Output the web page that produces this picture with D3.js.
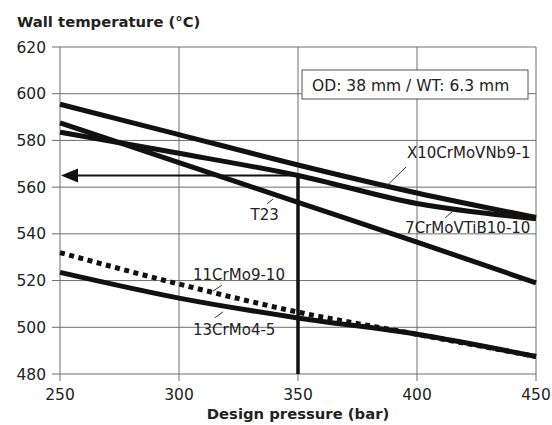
<!DOCTYPE html>
<html>
<head>
<meta charset="utf-8">
<script src="https://cdn.jsdelivr.net/npm/d3@7"></script>
<style>
  body { margin: 0; background: #fff; }
  svg { display: block; font-family: "DejaVu Sans", sans-serif; }
</style>
</head>
<body>
<div id="chart"></div>
<script>
    const pressures = [250, 300, 350, 400, 450];
    const x10CrMoVNb = [595.5, 582.5, 569.5, 557.5, 547];
    const t23 = [587.5, 570.5, 553.5, 536.5, 519];
    const crMoVTiB = [583.5, 574.5, 565, 553, 546.5];
    const crMo910 = [532, 518.5, 506.5, 497, 487.5];
    const crMo45 = [523.5, 512.5, 504, 497, 487.5];

    const xTicks = [250, 300, 350, 400, 450];
    const yTicks = [480, 500, 520, 540, 560, 580, 600, 620];

    const series = [
        { name: "X10CrMoVNb9-1", values: x10CrMoVNb, dashed: false },
        { name: "7CrMoVTiB10-10", values: crMoVTiB, dashed: false },
        { name: "T23", values: t23, dashed: false },
        { name: "13CrMo4-5", values: crMo45, dashed: false },
        { name: "11CrMo9-10", values: crMo910, dashed: true }
    ];

    // label text anchor + leader line, in data units
    const labels = [
        { text: "X10CrMoVNb9-1", x: 395.8, y: 572.5, anchor: "start", lead: [[395.4, 568.6], [387, 560.3]] },
        { text: "7CrMoVTiB10-10", x: 395, y: 540.4, anchor: "start", lead: [[411.8, 546.8], [414.7, 549.4]] },
        { text: "T23", x: 336, y: 546, anchor: "middle", lead: [[337, 552.8], [339.5, 554.9]] },
        { text: "11CrMo9-10", x: 305.9, y: 520.3, anchor: "start", lead: [[314.3, 515.5], [318, 518]] },
        { text: "13CrMo4-5", x: 305.9, y: 496.7, anchor: "start", lead: [[315, 504], [318.5, 506.6]] }
    ];

    const designPressure = 350;
    const wallTemp = 565;

    const width = 552;
    const height = 425;
    const margin = { left: 60, right: 16, top: 47, bottom: 51 };

    const x = d3.scaleLinear()
        .domain([250, 450])
        .range([margin.left, width - margin.right]);

    const y = d3.scaleLinear()
        .domain([480, 620])
        .range([height - margin.bottom, margin.top]);

    const svg = d3.select("#chart").append("svg")
        .attr("width", width)
        .attr("height", height);

    const gridColor = "#6e6e6e";

    // horizontal grid + left ticks
    svg.append("g")
        .selectAll("line")
        .data(yTicks)
        .join("line")
        .attr("x1", margin.left - 8)
        .attr("x2", width - margin.right)
        .attr("y1", d => y(d))
        .attr("y2", d => y(d))
        .attr("stroke", gridColor)
        .attr("stroke-width", 1);

    // vertical grid + bottom ticks
    svg.append("g")
        .selectAll("line")
        .data(xTicks)
        .join("line")
        .attr("x1", d => x(d))
        .attr("x2", d => x(d))
        .attr("y1", margin.top)
        .attr("y2", height - margin.bottom + 7)
        .attr("stroke", gridColor)
        .attr("stroke-width", 1);

    svg.append("g")
        .selectAll("text")
        .data(yTicks)
        .join("text")
        .attr("x", margin.left - 14)
        .attr("y", d => y(d) + 5.5)
        .attr("text-anchor", "end")
        .attr("font-size", 15.5)
        .attr("fill", "#222")
        .text(d => d);

    svg.append("g")
        .selectAll("text")
        .data(xTicks)
        .join("text")
        .attr("x", d => x(d))
        .attr("y", height - margin.bottom + 26)
        .attr("text-anchor", "middle")
        .attr("font-size", 15.5)
        .attr("fill", "#222")
        .text(d => d);

    svg.append("text")
        .attr("x", 17)
        .attr("y", 27)
        .attr("font-size", 14.8)
        .attr("font-weight", "bold")
        .attr("fill", "#222")
        .text("Wall temperature (°C)");

    svg.append("text")
        .attr("x", 298)
        .attr("y", 419)
        .attr("text-anchor", "middle")
        .attr("font-size", 14.8)
        .attr("font-weight", "bold")
        .attr("fill", "#222")
        .text("Design pressure (bar)");

    // design point lines
    svg.append("line")
        .attr("x1", x(designPressure))
        .attr("x2", x(designPressure))
        .attr("y1", y(480))
        .attr("y2", y(wallTemp))
        .attr("stroke", "#111")
        .attr("stroke-width", 3.5);

    svg.append("line")
        .attr("x1", x(designPressure))
        .attr("x2", x(250) + 14)
        .attr("y1", y(wallTemp))
        .attr("y2", y(wallTemp))
        .attr("stroke", "#111")
        .attr("stroke-width", 2);

    svg.append("path")
        .attr("d", `M${x(250) + 1},${y(wallTemp)} L${x(250) + 18},${y(wallTemp) - 7} L${x(250) + 18},${y(wallTemp) + 7} Z`)
        .attr("fill", "#111");

    const line = d3.line()
        .x((d, i) => x(pressures[i]))
        .y(d => y(d))
        .curve(d3.curveMonotoneX);

    svg.append("g")
        .selectAll("path")
        .data(series)
        .join("path")
        .attr("d", d => line(d.values))
        .attr("fill", "none")
        .attr("stroke", "#111")
        .attr("stroke-width", 5)
        .attr("stroke-dasharray", d => d.dashed ? "5,4.5" : null);

    // annotation box
    svg.append("rect")
        .attr("x", 302)
        .attr("y", 70)
        .attr("width", 226)
        .attr("height", 29)
        .attr("fill", "#fff")
        .attr("stroke", "#555")
        .attr("stroke-width", 1);

    svg.append("text")
        .attr("x", 312)
        .attr("y", 91)
        .attr("font-size", 15.5)
        .attr("fill", "#222")
        .text("OD: 38 mm / WT: 6.3 mm");

    const lab = svg.append("g");
    lab.selectAll("line")
        .data(labels)
        .join("line")
        .attr("x1", d => x(d.lead[0][0]))
        .attr("y1", d => y(d.lead[0][1]))
        .attr("x2", d => x(d.lead[1][0]))
        .attr("y2", d => y(d.lead[1][1]))
        .attr("stroke", "#333")
        .attr("stroke-width", 1);

    lab.selectAll("text")
        .data(labels)
        .join("text")
        .attr("x", d => x(d.x))
        .attr("y", d => y(d.y))
        .attr("text-anchor", d => d.anchor)
        .attr("font-size", 15)
        .attr("fill", "#222")
        .text(d => d.text);
</script>
</body>
</html>
